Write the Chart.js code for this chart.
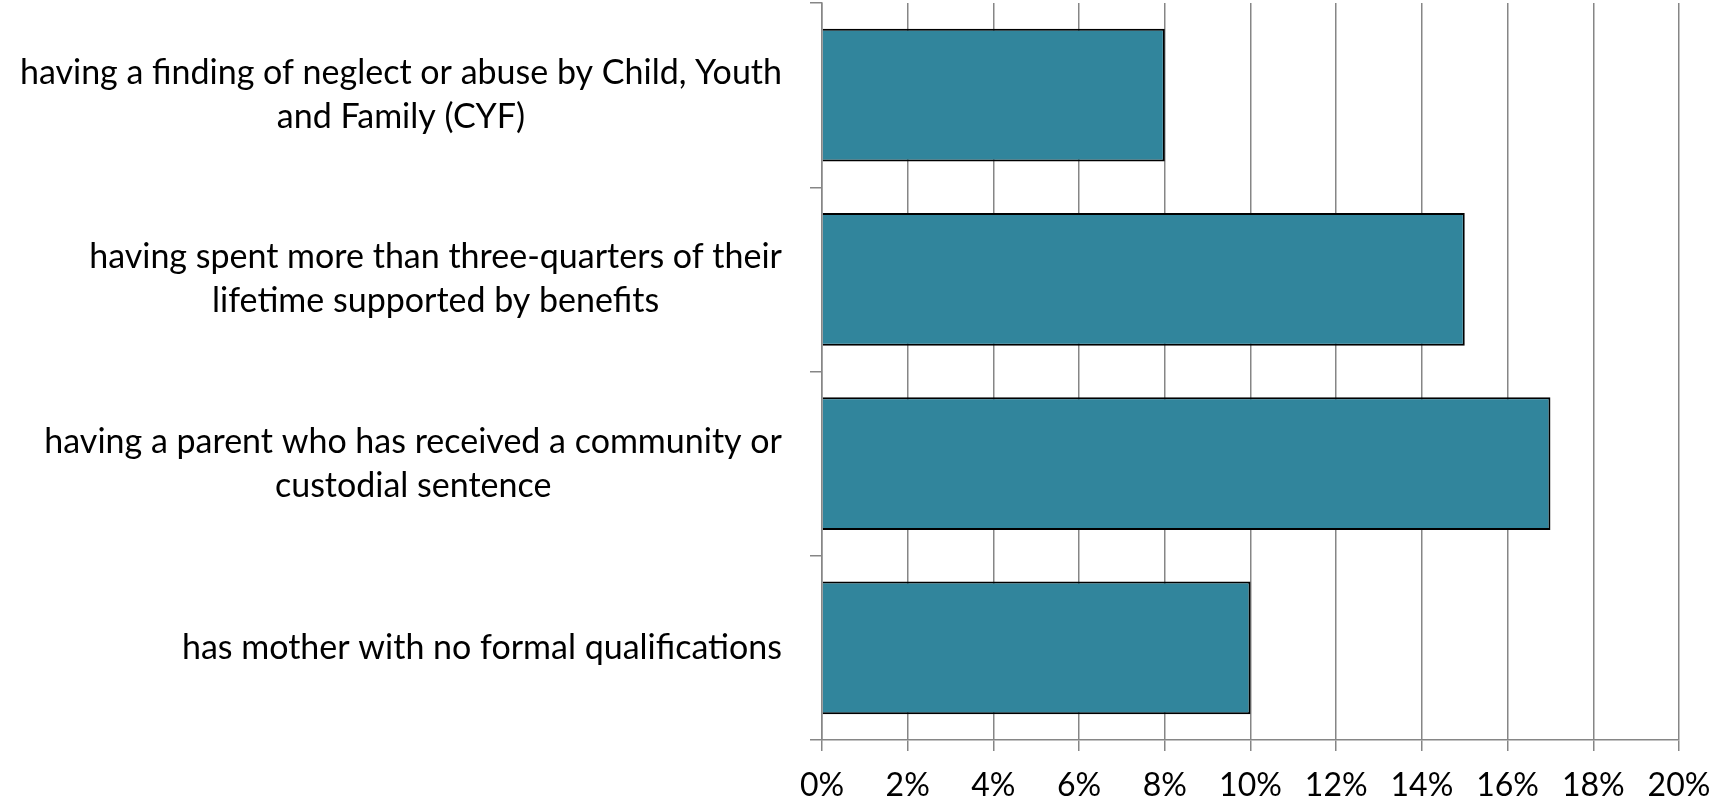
<!DOCTYPE html>
<html lang="en">
<head>
    <meta charset="UTF-8">
    <title>Risk factors</title>
    <script src="https://cdn.jsdelivr.net/npm/chart.js@4.4.1/dist/chart.umd.min.js"></script>
    <style>
        html, body { margin: 0; padding: 0; background: #fff; }
        #wrap { width: 1710px; height: 803px; position: relative; }
    </style>
</head>
<body>
    <div id="wrap">
        <canvas id="riskChart"></canvas>
    </div>

    <script>
        // category labels, one array of lines per bar (top to bottom)
        const categories = [
            ['having a finding of neglect or abuse by Child, Youth', 'and Family (CYF)'],
            ['having spent more than three-quarters of their', 'lifetime supported by benefits'],
            ['having a parent who has received a community or', 'custodial sentence'],
            ['has mother with no formal qualifications']
        ];
        const shares = [8, 15, 17, 10];
        const xTickLabels = ['0%', '2%', '4%', '6%', '8%', '10%', '12%', '14%', '16%', '18%', '20%'];

        const fontFamily = 'Lato, "Open Sans", sans-serif';
        const labelSize = 34;
        const labelLineGap = 44;
        const axisGrey = '#868686';

        // draws the wrapped category labels: block right-aligned, lines centred inside it
        const categoryLabels = {
            id: 'categoryLabels',
            afterDraw(chart) {
                const ctx = chart.ctx;
                const y = chart.scales.y;
                const right = y.right - 40;
                ctx.save();
                ctx.font = labelSize + 'px ' + fontFamily;
                ctx.fillStyle = '#000';
                ctx.textAlign = 'center';
                ctx.textBaseline = 'middle';
                categories.forEach(function(lines, i) {
                    const mid = y.getPixelForValue(i);
                    const blockWidth = Math.max.apply(null, lines.map(l => ctx.measureText(l).width));
                    const cx = right - blockWidth / 2;
                    lines.forEach(function(line, j) {
                        ctx.fillText(line, cx, mid + (j - (lines.length - 1) / 2) * labelLineGap);
                    });
                });
                ctx.restore();
            }
        };

        const ctx = document.getElementById('riskChart').getContext('2d');
        new Chart(ctx, {
            type: 'bar',
            data: {
                labels: categories.map(c => c.join(' ')),
                datasets: [{
                    data: shares,
                    backgroundColor: '#31859C',
                    borderColor: '#000',
                    borderWidth: 2,
                    barPercentage: 0.72,
                    categoryPercentage: 1
                }]
            },
            options: {
                indexAxis: 'y',
                responsive: true,
                maintainAspectRatio: false,
                animation: false,
                layout: { padding: { top: 3, right: 31, left: 0, bottom: 0 } },
                plugins: {
                    legend: { display: false },
                    tooltip: { enabled: false }
                },
                scales: {
                    x: {
                        min: 0,
                        max: 20,
                        ticks: {
                            stepSize: 2,
                            color: '#000',
                            padding: 15,
                            font: { family: fontFamily, size: 32 },
                            callback: (v, i) => xTickLabels[i]
                        },
                        grid: {
                            color: axisGrey,
                            lineWidth: 1.5,
                            tickLength: 11
                        },
                        border: { color: axisGrey, width: 1.5 },
                        afterFit(scale) {
                            scale.height = 63;
                            scale.paddingLeft = 0;
                            scale.paddingRight = 0;
                        }
                    },
                    y: {
                        ticks: { display: false },
                        grid: {
                            offset: true,
                            drawOnChartArea: false,
                            color: axisGrey,
                            lineWidth: 1.5,
                            tickLength: 12
                        },
                        border: { color: axisGrey, width: 1.5 },
                        afterFit(scale) { scale.width = 822; }
                    }
                }
            },
            plugins: [categoryLabels]
        });
    </script>
</body>
</html>
